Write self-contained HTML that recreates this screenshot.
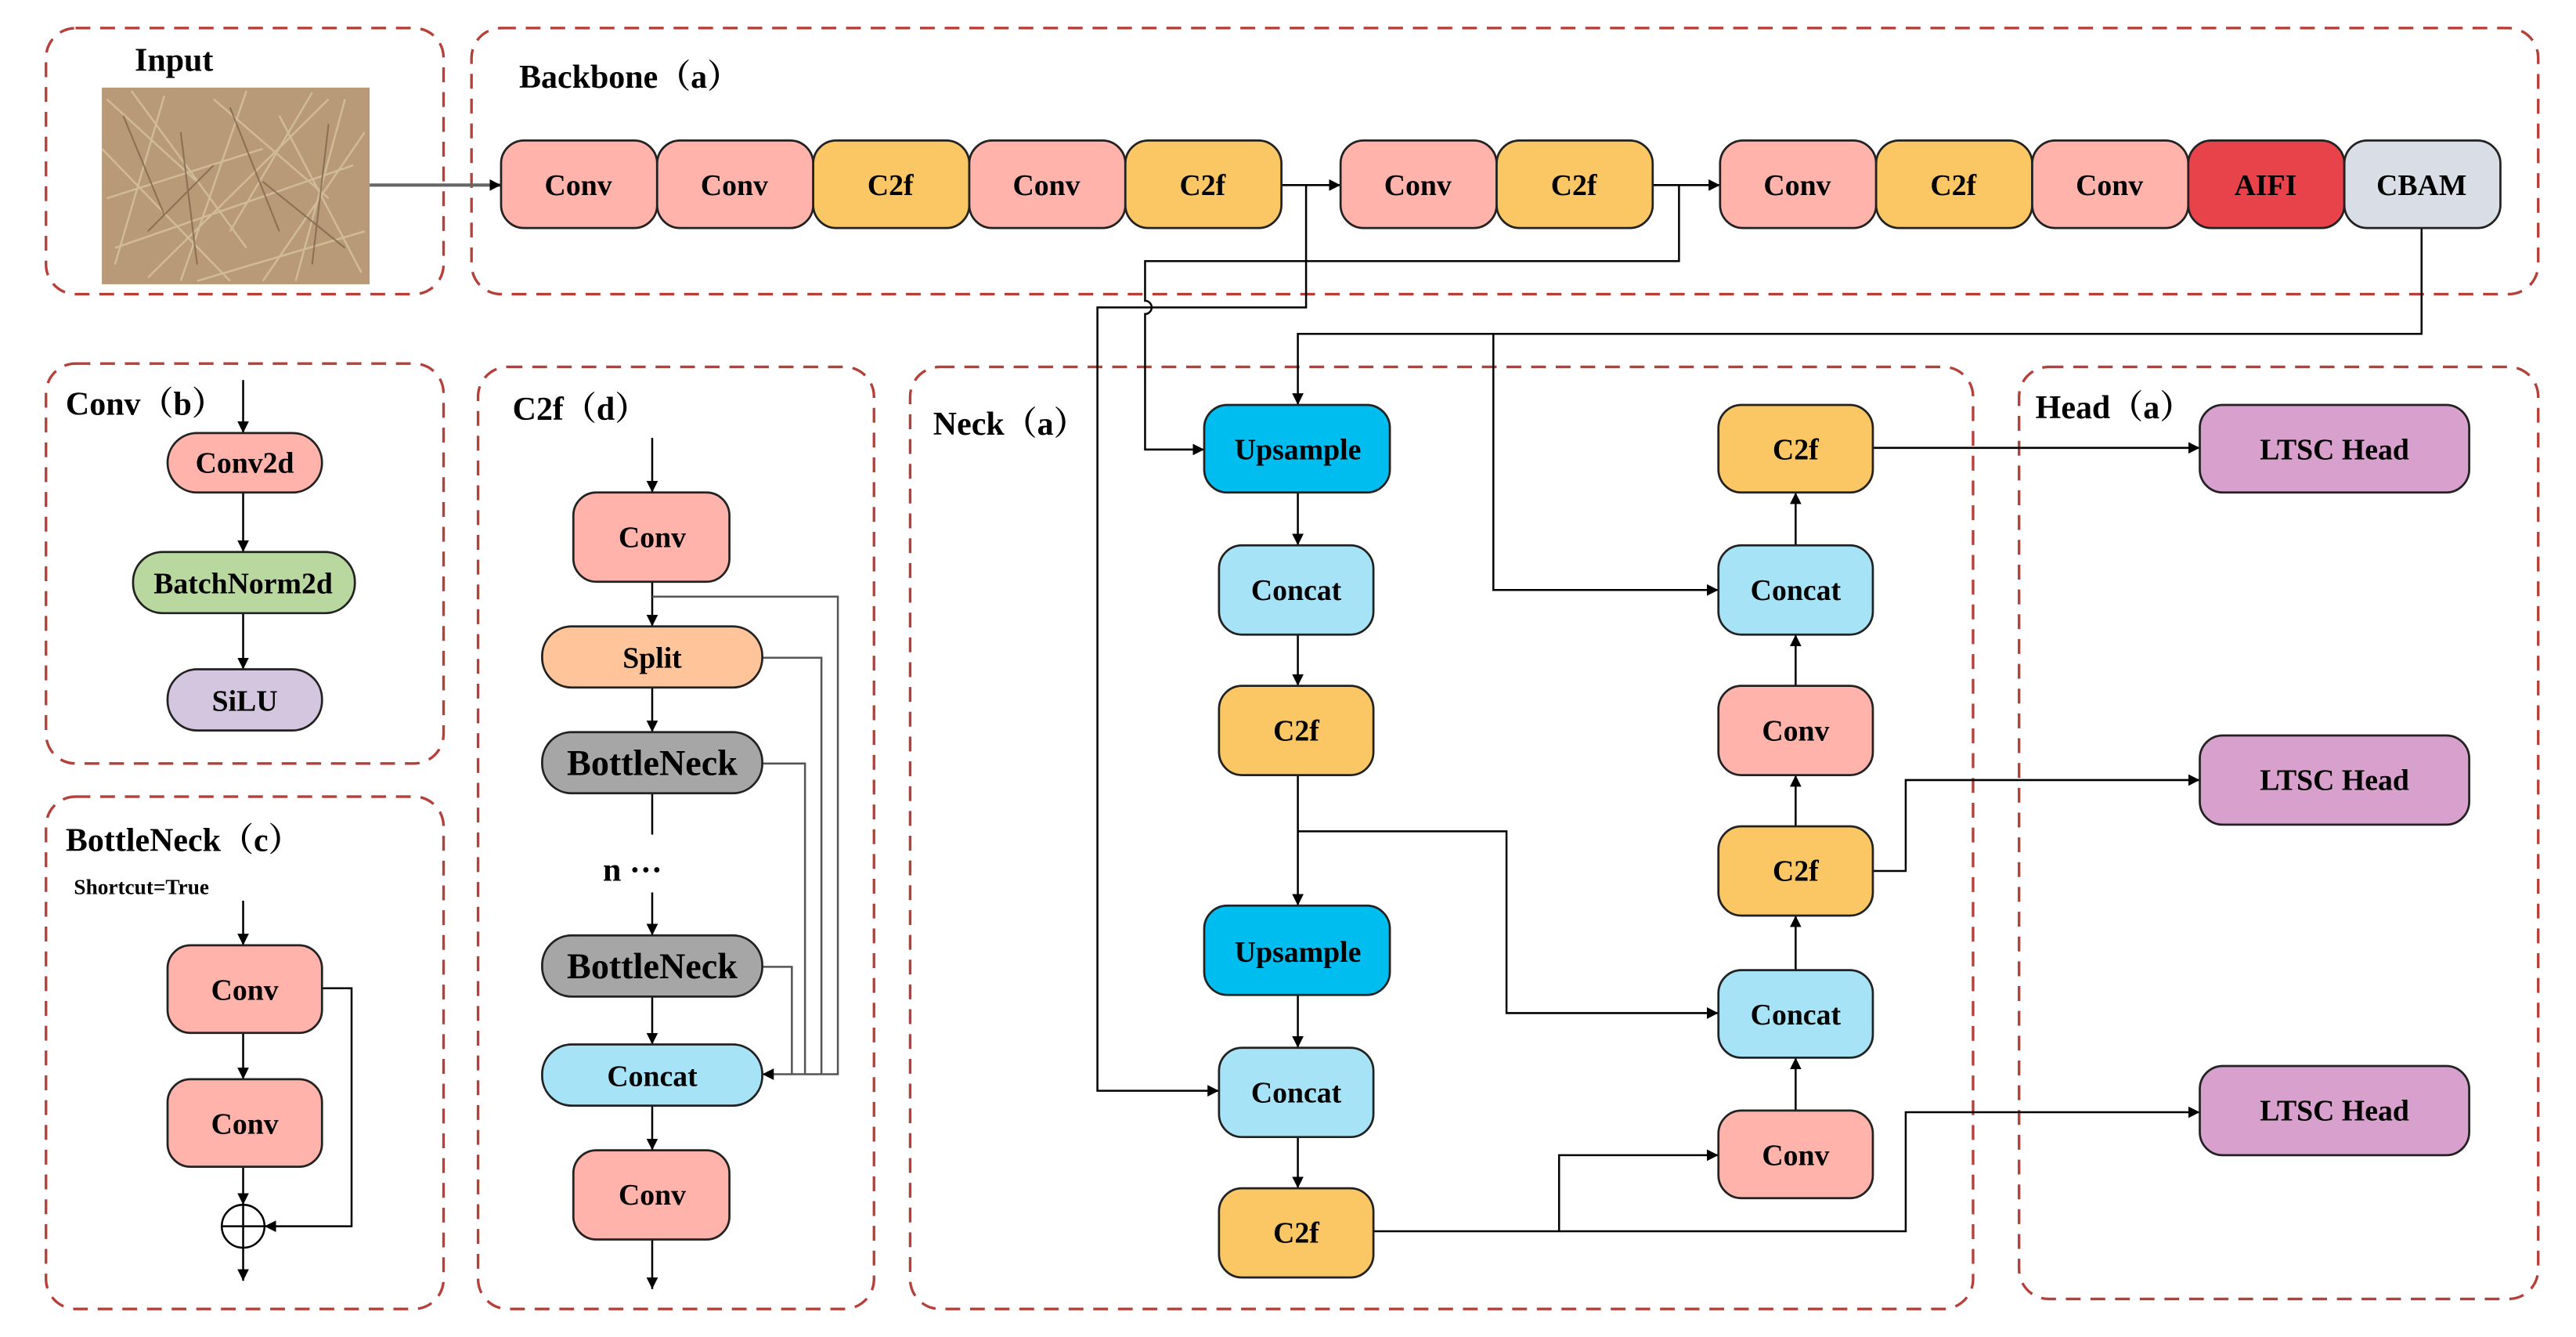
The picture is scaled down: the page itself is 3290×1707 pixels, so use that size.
<!DOCTYPE html>
<html><head><meta charset="utf-8"><style>
html,body{margin:0;padding:0;background:#fff;}
svg{display:block;}
text{font-family:"Liberation Serif","Noto Serif CJK SC",serif;font-weight:bold;fill:#000;}
</style></head><body>
<svg width="3290" height="1707" viewBox="0 0 1568 809" preserveAspectRatio="none" xmlns="http://www.w3.org/2000/svg">
<defs>
<marker id="a" viewBox="0 0 10 10" refX="10" refY="5" markerWidth="7" markerHeight="7" orient="auto" markerUnits="userSpaceOnUse"><path d="M0,0 L10,5 L0,10 z" fill="#000"/></marker>
</defs>
<g fill="none" stroke="#b5403a" stroke-width="1.6" stroke-dasharray="9,6">
<rect x="28" y="17" width="242" height="161" rx="18"/>
<rect x="287" y="17" width="1258" height="161" rx="18"/>
<rect x="28" y="220" width="242" height="242" rx="18"/>
<rect x="28" y="482" width="242" height="310" rx="18"/>
<rect x="291" y="222" width="241" height="570" rx="18"/>
<rect x="554" y="222" width="647" height="570" rx="18"/>
<rect x="1229" y="222" width="316" height="564" rx="18"/>
</g>
<g font-size="20">
<text x="82" y="43">Input</text>
<text x="316" y="53">Backbone（a）</text>
<text x="40" y="251">Conv（b）</text>
<text x="40" y="515">BottleNeck（c）</text>
<text x="312" y="254">C2f（d）</text>
<text x="568" y="263">Neck（a）</text>
<text x="1239" y="253">Head（a）</text>
</g>
<text x="45" y="541" font-size="13">Shortcut=True</text>
<rect x="62" y="53" width="163" height="119" fill="#b89a78"/>
<g stroke="#d8c3a0" stroke-width="1.2" opacity="0.8">
<path d="M65,60 L120,110 M80,55 L150,150 M100,58 L70,160 M130,60 L200,120 M150,55 L110,170 M170,70 L220,165 M190,56 L140,140 M210,60 L180,170 M65,120 L160,90 M70,150 L215,100 M90,168 L200,60 M120,170 L222,140 M62,90 L140,170 M160,170 L222,80"/>
</g>
<g stroke="#7a5f45" stroke-width="1" opacity="0.7">
<path d="M75,70 L100,130 M140,65 L170,140 M200,75 L190,160 M90,140 L130,100 M160,110 L210,150 M110,80 L120,160"/>
</g>
<g stroke="#000" stroke-width="1.2" fill="none">
<path d="M225,112 H305" stroke="#666" stroke-width="2" marker-end="url(#a)"/>
<path d="M780,112 H816" marker-end="url(#a)"/>
<path d="M1006,112 H1047" marker-end="url(#a)"/>
<path d="M795,112 V186 H668 V660 H742" marker-end="url(#a)"/>
<path d="M1022,112 V158 H697 V182 A4,4 0 0 1 697,190 V272 H733" marker-end="url(#a)"/>
<path d="M1474,138 V202 H790 V245" marker-end="url(#a)"/>
<path d="M909,202 V357 H1046" marker-end="url(#a)"/>
<path d="M790,298 V330" marker-end="url(#a)"/>
<path d="M790,384 V415" marker-end="url(#a)"/>
<path d="M790,469 V548" marker-end="url(#a)"/>
<path d="M790,503 H917 V613 H1046" marker-end="url(#a)"/>
<path d="M790,602 V634" marker-end="url(#a)"/>
<path d="M790,688 V719" marker-end="url(#a)"/>
<path d="M836,745 H1160 V673 H1339" marker-end="url(#a)"/>
<path d="M949,745 V699 H1046" marker-end="url(#a)"/>
<path d="M1093,672 V640" marker-end="url(#a)"/>
<path d="M1093,587 V554" marker-end="url(#a)"/>
<path d="M1093,500 V469" marker-end="url(#a)"/>
<path d="M1093,415 V384" marker-end="url(#a)"/>
<path d="M1093,330 V298" marker-end="url(#a)"/>
<path d="M1140,527 H1160 V472 H1339" marker-end="url(#a)"/>
<path d="M1140,271 H1339" marker-end="url(#a)"/>
<path d="M148,230 V262" marker-end="url(#a)"/>
<path d="M148,298 V334" marker-end="url(#a)"/>
<path d="M148,371 V405" marker-end="url(#a)"/>
<path d="M148,545 V572" marker-end="url(#a)"/>
<path d="M148,625 V653" marker-end="url(#a)"/>
<path d="M148,706 V729" marker-end="url(#a)"/>
<path d="M148,755 V775" marker-end="url(#a)"/>
<path d="M196,598 H214 V742 H161" marker-end="url(#a)"/>
<circle cx="148" cy="742" r="13"/>
<path d="M135,742 H161 M148,729 V755"/>
<path d="M397,265 V298" marker-end="url(#a)"/>
<path d="M397,352 V379" marker-end="url(#a)"/>
<path d="M397,416 V443" marker-end="url(#a)"/>
<path d="M397,480 V505"/>
<path d="M397,540 V566" marker-end="url(#a)"/>
<path d="M397,603 V632" marker-end="url(#a)"/>
<path d="M397,669 V696" marker-end="url(#a)"/>
<path d="M397,750 V780" marker-end="url(#a)"/>
<path d="M397,361 H510 V650 H464" stroke="#555" marker-end="url(#a)"/>
<path d="M464,398 H500 V650" stroke="#555"/>
<path d="M464,462 H490 V650" stroke="#555"/>
<path d="M464,585 H482 V650" stroke="#555"/>
</g>
<text x="367" y="533" font-size="20">n ···</text>
<g stroke="#222" stroke-width="1.3" font-size="18" text-anchor="middle">
<g>
<rect x="305" y="85" width="95" height="53" rx="14" fill="#ffb3ab"/>
<rect x="400" y="85" width="95" height="53" rx="14" fill="#ffb3ab"/>
<rect x="495" y="85" width="95" height="53" rx="14" fill="#fbc764"/>
<rect x="590" y="85" width="95" height="53" rx="14" fill="#ffb3ab"/>
<rect x="685" y="85" width="95" height="53" rx="14" fill="#fbc764"/>
<rect x="816" y="85" width="95" height="53" rx="14" fill="#ffb3ab"/>
<rect x="911" y="85" width="95" height="53" rx="14" fill="#fbc764"/>
<rect x="1047" y="85" width="95" height="53" rx="14" fill="#ffb3ab"/>
<rect x="1142" y="85" width="95" height="53" rx="14" fill="#fbc764"/>
<rect x="1237" y="85" width="95" height="53" rx="14" fill="#ffb3ab"/>
<rect x="1332" y="85" width="95" height="53" rx="14" fill="#e8424a"/>
<rect x="1427" y="85" width="95" height="53" rx="14" fill="#d9dde6"/>
<rect x="733" y="245" width="113" height="53" rx="14" fill="#00bdf0"/>
<rect x="742" y="330" width="94" height="54" rx="14" fill="#a6e3f7"/>
<rect x="742" y="415" width="94" height="54" rx="14" fill="#fbc764"/>
<rect x="733" y="548" width="113" height="54" rx="14" fill="#00bdf0"/>
<rect x="742" y="634" width="94" height="54" rx="14" fill="#a6e3f7"/>
<rect x="742" y="719" width="94" height="54" rx="14" fill="#fbc764"/>
<rect x="1046" y="245" width="94" height="53" rx="14" fill="#fbc764"/>
<rect x="1046" y="330" width="94" height="54" rx="14" fill="#a6e3f7"/>
<rect x="1046" y="415" width="94" height="54" rx="14" fill="#ffb3ab"/>
<rect x="1046" y="500" width="94" height="54" rx="14" fill="#fbc764"/>
<rect x="1046" y="587" width="94" height="53" rx="14" fill="#a6e3f7"/>
<rect x="1046" y="672" width="94" height="53" rx="14" fill="#ffb3ab"/>
<rect x="1339" y="245" width="164" height="53" rx="14" fill="#d8a0cc"/>
<rect x="1339" y="445" width="164" height="54" rx="14" fill="#d8a0cc"/>
<rect x="1339" y="645" width="164" height="54" rx="14" fill="#d8a0cc"/>
<rect x="102" y="262" width="94" height="36" rx="18" fill="#ffb3ab"/>
<rect x="81" y="334" width="135" height="37" rx="18" fill="#b9d8a0"/>
<rect x="102" y="405" width="94" height="37" rx="18" fill="#d5c6e0"/>
<rect x="102" y="572" width="94" height="53" rx="14" fill="#ffb3ab"/>
<rect x="102" y="653" width="94" height="53" rx="14" fill="#ffb3ab"/>
<rect x="349" y="298" width="95" height="54" rx="14" fill="#ffb3ab"/>
<rect x="330" y="379" width="134" height="37" rx="18" fill="#ffc49a"/>
<rect x="330" y="443" width="134" height="37" rx="18" fill="#a6a6a6"/>
<rect x="330" y="566" width="134" height="37" rx="18" fill="#a6a6a6"/>
<rect x="330" y="632" width="134" height="37" rx="18" fill="#a6e3f7"/>
<rect x="349" y="696" width="95" height="54" rx="14" fill="#ffb3ab"/>
</g>
<g stroke="none">
<text x="352" y="118">Conv</text><text x="447" y="118">Conv</text><text x="542" y="118">C2f</text>
<text x="637" y="118">Conv</text><text x="732" y="118">C2f</text><text x="863" y="118">Conv</text>
<text x="958" y="118">C2f</text><text x="1094" y="118">Conv</text><text x="1189" y="118">C2f</text>
<text x="1284" y="118">Conv</text><text x="1379" y="118" fill="#fff">AIFI</text><text x="1474" y="118">CBAM</text>
<text x="790" y="278">Upsample</text><text x="789" y="363">Concat</text><text x="789" y="448">C2f</text>
<text x="790" y="582">Upsample</text><text x="789" y="667">Concat</text><text x="789" y="752">C2f</text>
<text x="1093" y="278">C2f</text><text x="1093" y="363">Concat</text><text x="1093" y="448">Conv</text>
<text x="1093" y="533">C2f</text><text x="1093" y="620">Concat</text><text x="1093" y="705">Conv</text>
<text x="1421" y="278">LTSC Head</text><text x="1421" y="478">LTSC Head</text><text x="1421" y="678">LTSC Head</text>
<text x="149" y="286">Conv2d</text><text x="148" y="359">BatchNorm2d</text><text x="149" y="430">SiLU</text>
<text x="149" y="605">Conv</text><text x="149" y="686">Conv</text>
<text x="397" y="331">Conv</text><text x="397" y="404">Split</text>
<text x="397" y="469" font-size="22">BottleNeck</text><text x="397" y="592" font-size="22">BottleNeck</text>
<text x="397" y="657">Concat</text><text x="397" y="729">Conv</text>
</g>
</g>
</svg>
</body></html>
